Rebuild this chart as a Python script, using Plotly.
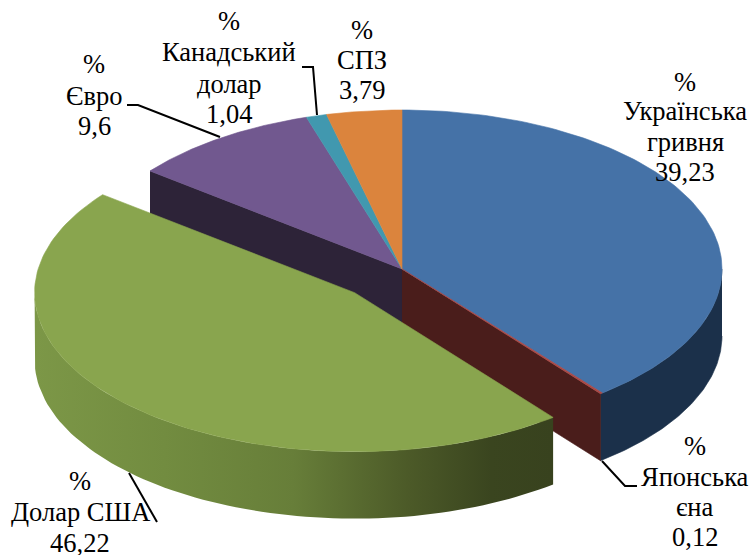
import numpy as np
import plotly.graph_objects as go

# ---- data ----
categories = [["Українська", "гривня"], ["Японська", "єна"], ["Долар США"], ["Євро"], ["Канадський", "долар"], ["СПЗ"]]
values = [39.23, 0.12, 46.22, 9.6, 1.04, 3.79]
value_labels = ["39,23", "0,12", "46,22", "9,6", "1,04", "3,79"]
top_colors = ["#4572A7", "#AA4643", "#89A54E", "#71588F", "#4198AF", "#DB843D"]
inner_colors = ["#4A1D1B", "#4A1D1B", "#4A1D1B", "#2D2338", "#2D2338", "#2D2338"]
explode = [0, 0, 0.21, 0, 0, 0]
label_x = [685, 695, 80, 94, 229, 362]
label_line_y = [[82, 111, 142, 172], [446, 477, 507, 537], [481, 512, 543], [64, 96, 126], [21, 52, 84, 114], [30, 60, 90]]
leaders_x = [[127, 138, 220], [302, 313, 317], [129, 157], [602, 625, 637]]
leaders_y = [[105, 105, 137], [67, 67, 115], [473, 522], [461, 486, 486]]

# ---- projection of the tilted pie onto the page ----
CX, CY, RX, RY, DEPTH = 402, 269, 320, 159, 67


def point(t, off):
    return off[0] + RX * np.sin(t), off[1] - RY * np.cos(t)


def offset(mid, k):
    return CX + RX * k * np.sin(mid), CY - RY * k * np.cos(mid)


edges = np.concatenate([[0], np.cumsum(values)]) / sum(values) * 2 * np.pi
starts, ends = edges[:-1], edges[1:]
offsets = [offset((a + b) / 2, k) for a, b, k in zip(starts, ends, explode)]

fig = go.Figure()


def face(xs, ys, color=None, gradient=None):
    kw = dict(fillgradient=gradient) if gradient else dict(fillcolor=color)
    fig.add_trace(go.Scatter(x=list(xs), y=list(ys), mode="lines", fill="toself",
                             line=dict(width=0.6 if color else 0, color=color or "rgba(0,0,0,0)"),
                             hoverinfo="skip", showlegend=False, **kw))


def outer_wall(i, t0, t1, color=None, gradient=None):
    ts = np.linspace(t0, t1, 80)
    x, y = point(ts, offsets[i])
    face(np.concatenate([x, x[::-1]]), np.concatenate([y, y[::-1] + DEPTH]), color, gradient)


# inner cut faces at the back (Euro) and the front of the hryvnia
ex, ey = point(starts[3], offsets[3])
ox, oy = offsets[3]
face([ex, ox, ox, ex], [ey, oy, oy + DEPTH, ey + DEPTH], inner_colors[3])

# outer wall of the hryvnia slice (runs on under the yen sliver)
outer_wall(0, np.pi / 2, ends[1], color="#1B304A")

ex, ey = point(ends[1], offsets[1])
ox, oy = offsets[1]
face([ox, ex, ex, ox], [oy, ey, ey + DEPTH, oy + DEPTH], inner_colors[1])

# outer wall of the exploded dollar slice
outer_wall(2, starts[2], 3 * np.pi / 2,
           gradient=dict(type="horizontal",
                         colorscale=[[0, "#7C9747"], [0.25, "#728C40"], [0.5, "#677E39"],
                                     [0.72, "#4C5A28"], [0.88, "#3A451F"], [1, "#38421E"]]))

# top faces
for i in [0, 3, 4, 5, 1, 2]:
    ts = np.linspace(starts[i], ends[i], 120)
    x, y = point(ts, offsets[i])
    face(np.concatenate([[offsets[i][0]], x, [offsets[i][0]]]),
         np.concatenate([[offsets[i][1]], y, [offsets[i][1]]]), top_colors[i])

# leader lines
for lx, ly in zip(leaders_x, leaders_y):
    fig.add_trace(go.Scatter(x=lx, y=ly, mode="lines", line=dict(color="#000000", width=2),
                             hoverinfo="skip", showlegend=False))

# data labels, one annotation per line
for name, val, lx, ys in zip(categories, value_labels, label_x, label_line_y):
    for line, ly in zip(["%"] + name + [val], ys):
        fig.add_annotation(x=lx, y=ly, text=line, showarrow=False,
                           xanchor="center", yanchor="middle",
                           font=dict(family="Liberation Serif", size=26.5, color="#000000"))

fig.update_layout(width=751, height=555, margin=dict(l=0, r=0, t=0, b=0),
                  paper_bgcolor="#FFFFFF", plot_bgcolor="#FFFFFF", showlegend=False,
                  xaxis=dict(range=[0, 751], visible=False, fixedrange=True),
                  yaxis=dict(range=[555, 0], visible=False, fixedrange=True))

fig.write_html("out.html", config=dict(displayModeBar=False),
               post_script="document.body.style.margin='0';document.body.style.overflow='hidden';")
